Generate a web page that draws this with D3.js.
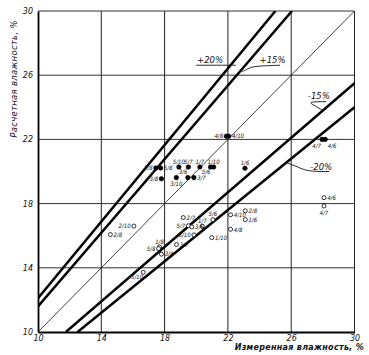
<!DOCTYPE html>
<html><head><meta charset="utf-8">
<script src="https://cdn.jsdelivr.net/npm/d3@7"></script>
<style>
html,body{margin:0;padding:0;background:#fff;}
text{font-family:"DejaVu Sans",sans-serif;font-style:italic;fill:#111;}
text.pl{font-family:"DejaVu Sans Condensed","Liberation Sans Narrow","DejaVu Sans",sans-serif;font-stretch:condensed;}
</style></head>
<body><svg id="c" width="369" height="355"></svg>
<script>
// ---- data ----
const ticks = [10, 14, 18, 22, 26, 30];
const tickLabels = ["10", "14", "18", "22", "26", "30"];
const xTitle = "Измеренная влажность, %";
const yTitle = "Расчетная влажность, %";

const lineIdeal = [[10, 10], [30, 30]];
const linePlus20 = [[10, 12.1], [25, 30]];
const linePlus15 = [[10, 11.6], [26.05, 30]];
const lineMinus15 = [[11.76, 10], [30, 25.5]];
const lineMinus20 = [[12.5, 10], [30, 24]];
const lineNames = ["+20%", "+15%", "-15%", "-20%"];

// filled points
const filledX = [17.45, 17.75, 17.8, 18.9, 18.74, 19.5, 19.47, 19.85, 20.23, 20.9, 21.1, 21.9, 22.05, 23.08, 27.95, 28.15];
const filledY = [20.22, 20.22, 19.55, 20.28, 19.62, 20.28, 19.62, 19.62, 20.28, 20.28, 20.28, 22.2, 22.2, 20.2, 22.0, 22.0];
const filledLab = ["1/8", "5/8", "3/8", "5/10", "3/10", "5/7", "3/6", "3/7", "1/7", "5/6", "1/10", "4/8", "4/10", "1/6", "4/7", "4/6"];
const filledPos = ["l", "r", "l", "t", "b", "t", "tl", "r", "t", "bl", "t", "l", "r", "t", "bL", "br"];

// open points
const openX = [16.06, 14.57, 17.68, 17.62, 17.8, 16.65, 19.18, 19.5, 19.72, 20.38, 21.05, 19.85, 18.75, 20.98, 22.17, 22.17, 23.1, 23.1, 28.07, 28.07];
const openY = [16.6, 16.07, 15.3, 15.2, 14.85, 13.72, 17.13, 16.62, 16.55, 16.6, 17.0, 16.05, 15.45, 15.88, 17.3, 16.4, 17.55, 17.0, 18.37, 17.85];
const openLab = ["2/10", "2/8", "1/8", "5/8", "3/8", "5/10", "2/7", "5/7", "3/6", "1/7", "5/6", "3/10", "3/7", "1/10", "4/10", "4/8", "2/8", "1/6", "4/6", "4/7"];
const openPos = ["l", "r", "t", "l", "r", "bl", "r", "l", "r", "t", "t", "l", "r", "r", "r", "r", "r", "r", "r", "b"];

// ---- chart ----
const svg = d3.select("#c");
svg.append("rect").attr("width", 369).attr("height", 355).attr("fill", "#fff");
const x = d3.scaleLinear().domain([10, 30]).range([38, 354.5]);
const y = d3.scaleLinear().domain([10, 30]).range([332, 11]);

svg.append("clipPath").attr("id", "clip").append("rect")
  .attr("x", x(10)).attr("y", y(30)).attr("width", x(30) - x(10)).attr("height", y(10) - y(30));

// grid
const g = svg.append("g");
ticks.slice(1).forEach(t => {
  g.append("line").attr("x1", x(t)).attr("x2", x(t)).attr("y1", y(10)).attr("y2", y(30))
    .attr("stroke", "#222").attr("stroke-width", 1);
  g.append("line").attr("x1", x(10)).attr("x2", x(30)).attr("y1", y(t)).attr("y2", y(t))
    .attr("stroke", "#333").attr("stroke-width", 1);
});

// axes
const xAxis = d3.axisBottom(x).tickValues(ticks).tickFormat((d, i) => tickLabels[i]).tickSize(0).tickPadding(3);
const yAxis = d3.axisLeft(y).tickValues(ticks).tickFormat((d, i) => tickLabels[i]).tickSize(0).tickPadding(5);
const gx = svg.append("g").attr("transform", `translate(0,${y(10)})`).call(xAxis);
const gy = svg.append("g").attr("transform", `translate(${x(10)},0)`).call(yAxis);
[gx, gy].forEach(a => {
  a.select(".domain").attr("stroke", "#000").attr("stroke-width", 1.8);
  a.selectAll("text").style("font-family", "DejaVu Sans").style("font-style", "italic")
    .style("font-size", "8px").attr("fill", "#111");
});

// diagonal lines
const lineGen = d3.line().x(d => x(d[0])).y(d => y(d[1]));
const lg = svg.append("g").attr("clip-path", "url(#clip)");
lg.append("path").attr("d", lineGen(lineIdeal)).attr("fill", "none").attr("stroke", "#111").attr("stroke-width", 0.8);
[linePlus20, linePlus15, lineMinus15, lineMinus20].forEach(L => {
  lg.append("path").attr("d", lineGen(L)).attr("fill", "none").attr("stroke", "#000").attr("stroke-width", 2.5);
});

// line annotations
const ann = svg.append("g");
const lab = (tx, ty, s) => ann.append("text").attr("x", x(tx)).attr("y", y(ty)).attr("font-size", "8.5px").text(s);
const path = (pts) => ann.append("path").attr("d", d3.line().curve(d3.curveBasis).x(d => x(d[0])).y(d => y(d[1]))(pts))
  .attr("fill", "none").attr("stroke", "#111").attr("stroke-width", 0.9);
lab(20.05, 26.78, lineNames[0]);
path([[20.0, 26.62], [21.3, 26.62], [22.5, 26.62]]);
lab(24.0, 26.78, lineNames[1]);
path([[22.9, 26.2], [23.4, 26.5], [24.0, 26.58], [25.3, 26.62]]);
lab(27.05, 24.5, lineNames[2]);
path([[28.0, 23.8], [27.5, 24.1], [27.0, 24.35], [28.2, 24.35]]);
lab(27.2, 20.1, lineNames[3]);
path([[25.7, 20.55], [26.4, 20.3], [27.0, 20.0], [28.4, 20.0]]);

// points
const off = {
  r: [3.2, 2.3, "start"], l: [-3.2, 2.3, "end"], t: [0, -3.2, "middle"], b: [0, 8.5, "middle"],
  tl: [-0.5, -3.2, "end"], bl: [0, 6.8, "end"], br: [2.5, 8.5, "start"], bL: [-1, 8.5, "end"]
};
const pg = svg.append("g");
function drawPts(xs, ys, labs, pos, filled) {
  const data = xs.map((v, i) => ({ x: v, y: ys[i], l: labs[i], p: pos[i] }));
  pg.selectAll(null).data(data).enter().append("circle")
    .attr("cx", d => x(d.x)).attr("cy", d => y(d.y))
    .attr("r", filled ? 2.3 : 2)
    .attr("fill", filled ? "#000" : "#fff")
    .attr("stroke", "#000").attr("stroke-width", filled ? 0.5 : 0.8);
  pg.selectAll(null).data(data).enter().append("text")
    .attr("class", "pl")
    .attr("x", d => x(d.x) + off[d.p][0]).attr("y", d => y(d.y) + off[d.p][1])
    .attr("text-anchor", d => off[d.p][2])
    .attr("font-size", "6px")
    .text(d => d.l);
}
drawPts(filledX, filledY, filledLab, filledPos, true);
drawPts(openX, openY, openLab, openPos, false);

// titles
svg.append("text").attr("x", 364).attr("y", 350).attr("text-anchor", "end")
  .attr("font-size", "8px").attr("font-weight", "bold").attr("letter-spacing", "0.3px").text(xTitle);
svg.append("text").attr("transform", "translate(17,79) rotate(-90)").attr("text-anchor", "middle")
  .attr("font-size", "8.5px").attr("letter-spacing", "0.3px").text(yTitle);
</script></body></html>
